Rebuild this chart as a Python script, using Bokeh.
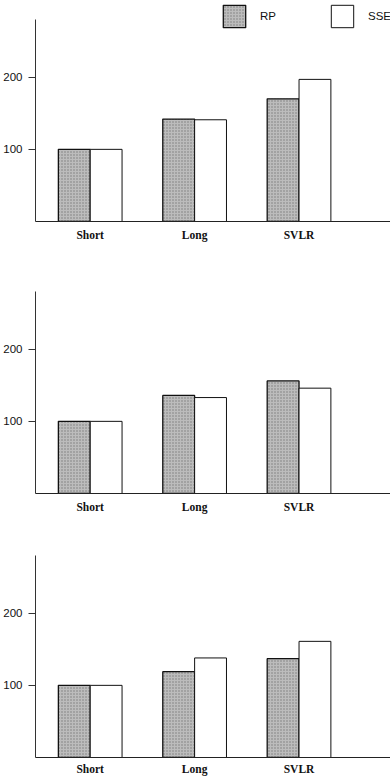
from bokeh.plotting import figure
from bokeh.layouts import column
from bokeh.models import (ColumnDataSource, Range1d, FixedTicker, Legend, LegendItem)
from bokeh.transform import dodge
from bokeh.embed import file_html
from bokeh.resources import INLINE

categories = ["Short", "Long", "SVLR"]
series_names = ["RP", "SSE"]
y_ticks = [100, 200]

panel1_rp = [100, 142, 170]
panel1_sse = [100, 141, 197]
panel2_rp = [100, 136, 156]
panel2_sse = [100, 133, 146]
panel3_rp = [100, 119, 137]
panel3_sse = [100, 138, 161]

panels = [(panel1_rp, panel1_sse), (panel2_rp, panel2_sse), (panel3_rp, panel3_sse)]

W = 390
Y_MAX = 280
PX_PER_UNIT = 202 / Y_MAX
frame_hs = [220, 202, 202]
tops = [1, 30, 22]
bottoms = [40, 40, 20]
standoffs = [7, 7, 5]

BAR_W = 0.305
SANS = "Liberation Sans"
SERIF = "Liberation Serif"

figs = []
for i, (rp, sse) in enumerate(panels):
    fh = frame_hs[i]
    h = tops[i] + fh + bottoms[i]
    p = figure(width=W, height=h, output_backend="svg", toolbar_location=None,
               x_range=Range1d(-0.524, 2.876), y_range=Range1d(0, fh / PX_PER_UNIT),
               min_border_top=tops[i], min_border_bottom=bottoms[i],
               min_border_left=33, min_border_right=0)
    p.outline_line_color = None
    p.xgrid.visible = False
    p.ygrid.visible = False
    p.background_fill_color = "white"
    p.border_fill_color = "white"

    src = ColumnDataSource(dict(x=list(range(len(categories))), cat=categories, rp=rp, sse=sse))
    r_rp = p.vbar(x=dodge("x", -BAR_W / 2, range=p.x_range), top="rp", width=BAR_W, bottom=0,
                  source=src, fill_color="#bcbcbc", line_color="#111111", line_width=1.3,
                  hatch_pattern="dot", hatch_color="#6a6a6a", hatch_scale=3, hatch_alpha=0.8)
    r_sse = p.vbar(x=dodge("x", BAR_W / 2, range=p.x_range), top="sse", width=BAR_W, bottom=0,
                   source=src, fill_color="white", line_color="#111111", line_width=1)

    # x axis
    xa = p.xaxis[0]
    xa.ticker = FixedTicker(ticks=list(range(len(categories))))
    xa.major_label_overrides = {j: c for j, c in enumerate(categories)}
    xa.major_tick_out = 0
    xa.major_tick_in = 0
    xa.minor_tick_out = 0
    xa.minor_tick_in = 0
    xa.axis_line_color = "#222222"
    xa.axis_line_width = 1.2
    xa.major_label_text_font = SERIF
    xa.major_label_text_font_style = "bold"
    xa.major_label_text_font_size = "11.5px"
    xa.major_label_text_color = "#111111"
    xa.major_label_standoff = standoffs[i]

    # y axis
    ya = p.yaxis[0]
    ya.ticker = FixedTicker(ticks=y_ticks)
    ya.bounds = (0, Y_MAX)
    ya.major_tick_out = 7
    ya.major_tick_in = 0
    ya.minor_tick_out = 0
    ya.minor_tick_in = 0
    ya.axis_line_color = "#333333"
    ya.axis_line_width = 1
    ya.major_tick_line_color = "#333333"
    ya.major_label_text_font = SANS
    ya.major_label_text_font_size = "11.5px"
    ya.major_label_text_color = "#111111"
    ya.major_label_standoff = 6

    if i == 0:
        legend = Legend(items=[LegendItem(label=series_names[0], renderers=[r_rp]),
                               LegendItem(label=series_names[1], renderers=[r_sse])],
                        location=(185, fh - 29), orientation="horizontal",
                        glyph_width=28, glyph_height=28, label_standoff=12, spacing=48,
                        padding=0, margin=0, border_line_color=None,
                        background_fill_alpha=0, label_text_font=SANS,
                        label_text_font_size="11.5px", label_text_color="#111111")
        p.add_layout(legend, "center")
    figs.append(p)

layout = column(*figs, spacing=0)
open("out.html", "w").write(file_html(layout, INLINE))
